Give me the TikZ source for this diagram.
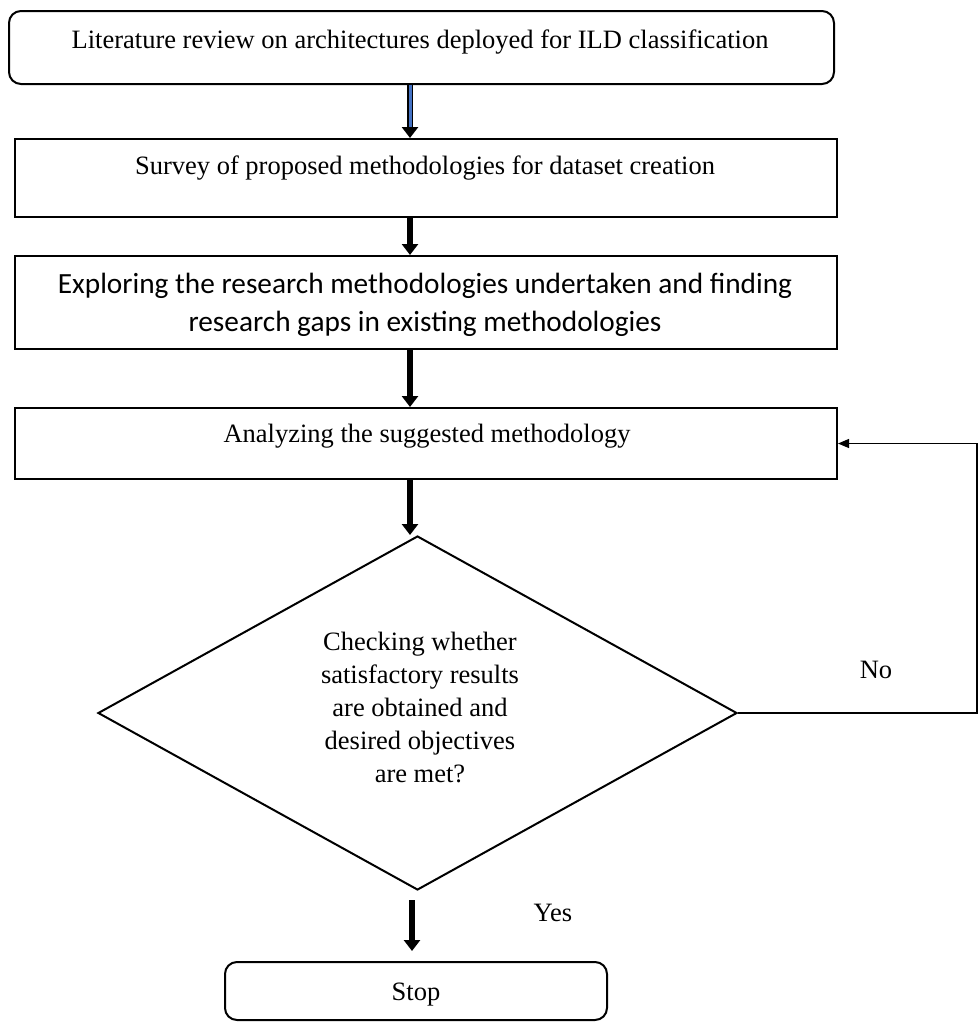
\documentclass[tikz,border=0pt]{standalone}
\usepackage{fontspec}
\setmainfont{Liberation Serif}
\newfontfamily\calfont{Carlito}
\usetikzlibrary{arrows.meta,shapes.geometric}
\definecolor{arrblue}{HTML}{4472C4}
\begin{document}
\begin{tikzpicture}[x=1pt,y=-1pt,
  box/.style={draw, line width=2pt, minimum width=822pt, inner sep=0pt},
  rbox/.style={box, rounded corners=12pt},
  txt/.style={font=\fontsize{26.5}{33}\selectfont, align=center, inner sep=0pt},
  caltxt/.style={font=\calfont\fontsize{29.3}{38}\selectfont, align=center, inner sep=0pt},
  blk/.style={line width=6.5pt, -{Triangle[width=16pt,length=11pt]}},
  thinline/.style={line width=1.2pt}
]
\useasboundingbox[fill=white] (0,0) rectangle (979,1023);
% boxes
\node[rbox, minimum width=825pt, minimum height=73pt] (b1) at (421.5,47.5) {};
\node[box, minimum height=78pt] (b2) at (426,178) {};
\node[box, minimum height=93pt] (b3) at (426,302.5) {};
\node[box, minimum height=71pt] (b4) at (426,443.5) {};
\node[draw, diamond, line width=2pt, minimum width=639pt, minimum height=354pt, inner sep=0pt] (d) at (417.5,713) {};
\node[rbox, minimum width=382pt, minimum height=58pt] (s) at (416,991) {};
% texts
\node[txt] (t1) at (420,42) {Literature review on architectures deployed for ILD classification};
\node[txt] (t2) at (425,168) {Survey of proposed methodologies for dataset creation};
\node[caltxt] (t3) at (425,305) {Exploring the research methodologies undertaken and finding\\research gaps in existing methodologies};
\node[txt] (t4) at (427,436) {Analyzing the suggested methodology};
\node[txt] (td) at (420,707) {Checking whether\\satisfactory results\\are obtained and\\desired objectives\\are met?};
\node[txt] (ts) at (416,995) {Stop};
\node[txt] (no) at (876,670) {No};
\node[txt] (yes) at (553,913) {Yes};
% connectors
\coordinate (ax) at (410,0);
\coordinate (ax5) at (412,0);
\draw[blk] (ax |- b1.south) -- (ax |- b2.north);
\draw[line width=3pt, arrblue, shorten >=11pt] (ax |- b1.south) -- (ax |- b2.north);
\draw[blk] (ax |- b2.south) -- (ax |- b3.north);
\draw[blk] (ax |- b3.south) -- (ax |- b4.north);
\draw[blk] (ax |- b4.south) -- (ax |- d.north);
\draw[blk, shorten <=9pt, shorten >=10pt] (ax5 |- d.south) -- (ax5 |- s.north);
\coordinate (r) at (977,713);
\draw[thinline, -{Triangle[width=9pt,length=11pt]}] (d.east) -- (r) |- (b4.east);
\end{tikzpicture}
\end{document}
